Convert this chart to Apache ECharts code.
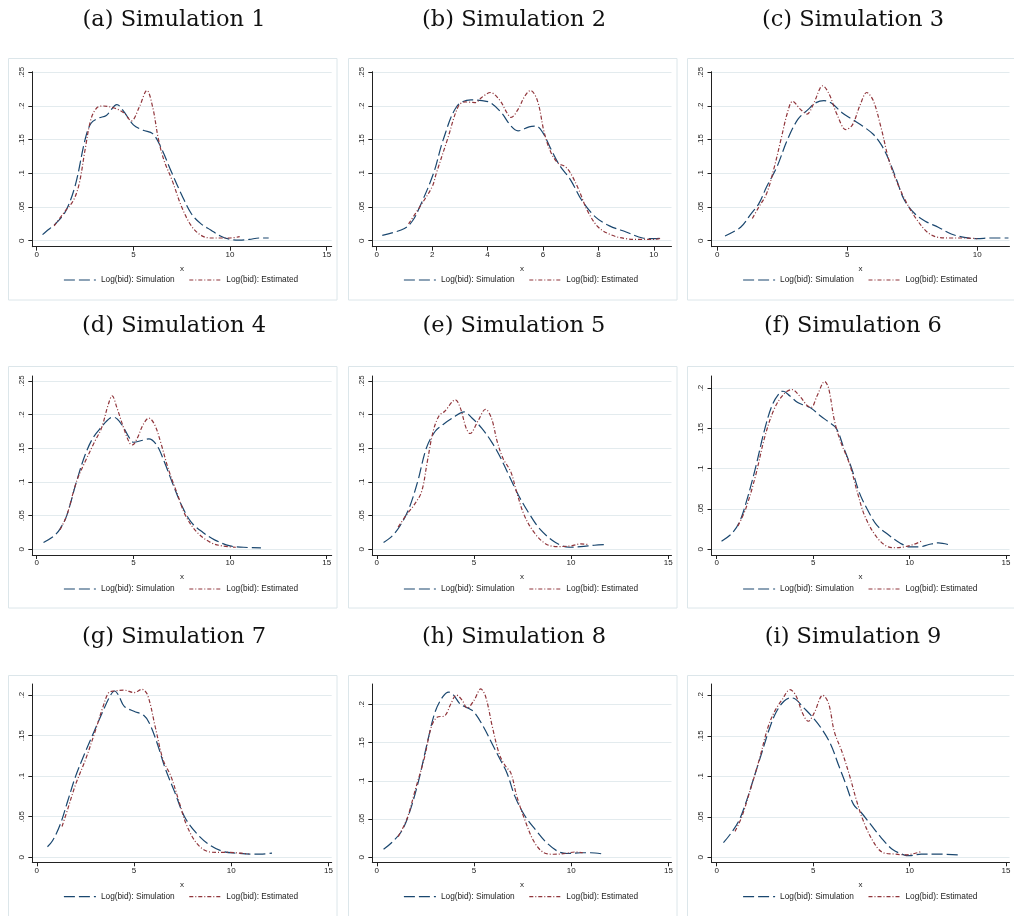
<!DOCTYPE html>
<html>
<head>
<meta charset="utf-8">
<script src="https://cdn.jsdelivr.net/npm/echarts@6/dist/echarts.min.js"></script>
<style>
html, body { margin: 0; padding: 0; background: #fff; }
#main { width: 1014px; height: 916px; }
</style>
</head>
<body>
<div id="main"></div>
<script>
// panel titles
const titles = ['(a) Simulation 1', '(b) Simulation 2', '(c) Simulation 3',
  '(d) Simulation 4', '(e) Simulation 5', '(f) Simulation 6',
  '(g) Simulation 7', '(h) Simulation 8', '(i) Simulation 9']
const simName = 'Log(bid): Simulation'
const estName = 'Log(bid): Estimated'

// density curves, [x, density]
const simA = [[0.3,0.009],[0.5,0.014],[1,0.026],[1.5,0.044],[2,0.083],[2.5,0.150],[2.8,0.174],[3.2,0.182],[3.6,0.186],[4.15,0.202],[4.5,0.192],[5,0.172],[5.5,0.164],[6,0.159],[6.4,0.140],[7,0.100],[7.5,0.068],[8,0.040],[8.5,0.025],[9,0.016],[9.5,0.007],[10,0.002],[10.5,0.001],[11,0.002],[11.5,0.004],[12,0.004]]
const estA = [[0.9,0.022],[1.5,0.045],[1.9,0.060],[2.2,0.085],[2.5,0.135],[2.8,0.180],[3.1,0.197],[3.4,0.200],[4,0.197],[4.5,0.190],[4.9,0.178],[5.3,0.198],[5.7,0.223],[6.0,0.198],[6.3,0.150],[6.6,0.118],[7,0.090],[7.5,0.050],[8,0.022],[8.5,0.008],[9,0.004],[9.5,0.004],[10,0.004],[10.5,0.006]]
const simB = [[0.2,0.008],[1.0,0.018],[1.3,0.030],[1.55,0.050],[2.05,0.100],[2.4,0.150],[2.9,0.200],[3.4,0.209],[3.8,0.208],[4.1,0.205],[4.5,0.190],[4.85,0.170],[5.1,0.163],[5.5,0.169],[5.75,0.170],[6.0,0.160],[6.3,0.135],[6.6,0.112],[7.0,0.090],[7.4,0.060],[7.9,0.035],[8.4,0.022],[9.0,0.013],[9.6,0.004],[10.0,0.003],[10.35,0.004]]
const estB = [[1.15,0.025],[1.55,0.050],[2.0,0.080],[2.15,0.100],[2.55,0.150],[2.95,0.200],[3.2,0.206],[3.55,0.205],[3.8,0.213],[4.1,0.220],[4.45,0.208],[4.7,0.190],[4.85,0.183],[5.1,0.195],[5.35,0.215],[5.55,0.223],[5.8,0.208],[6.05,0.160],[6.3,0.130],[6.55,0.115],[6.8,0.110],[7.0,0.100],[7.3,0.075],[7.6,0.045],[8.0,0.020],[8.5,0.008],[9.0,0.003],[9.5,0.002],[10.0,0.002],[10.3,0.004]]
const simC = [[0.3,0.007],[0.9,0.020],[1.3,0.040],[1.6,0.055],[1.9,0.080],[2.3,0.110],[2.7,0.150],[3.1,0.180],[3.5,0.195],[3.8,0.205],[4.1,0.208],[4.4,0.204],[4.8,0.190],[5.2,0.180],[5.6,0.170],[6.0,0.158],[6.3,0.143],[6.6,0.120],[6.9,0.090],[7.2,0.060],[7.6,0.040],[8.0,0.029],[8.5,0.020],[9.0,0.010],[9.5,0.005],[10.0,0.003],[10.5,0.004],[11.2,0.004]]
const estC = [[1.35,0.033],[1.6,0.050],[1.9,0.070],[2.2,0.110],[2.45,0.150],[2.7,0.190],[2.9,0.207],[3.2,0.195],[3.45,0.188],[3.7,0.203],[3.95,0.226],[4.05,0.230],[4.3,0.218],[4.6,0.188],[4.95,0.165],[5.2,0.172],[5.5,0.202],[5.75,0.220],[6.0,0.208],[6.3,0.168],[6.6,0.120],[6.9,0.088],[7.3,0.055],[7.7,0.030],[8.1,0.012],[8.5,0.005],[9.0,0.004],[9.5,0.004],[10.0,0.003]]
const simD = [[0.35,0.010],[0.9,0.020],[1.2,0.030],[1.55,0.050],[2.05,0.100],[2.5,0.140],[2.9,0.165],[3.3,0.180],[3.8,0.195],[4.0,0.196],[4.4,0.185],[4.8,0.165],[5.0,0.159],[5.5,0.162],[5.8,0.164],[6.2,0.155],[6.6,0.130],[7.0,0.100],[7.5,0.065],[8.0,0.040],[8.6,0.025],[9.2,0.014],[10.0,0.005],[10.7,0.003],[11.6,0.002]]
const estD = [[1.2,0.029],[1.55,0.050],[2.05,0.100],[2.5,0.130],[3.0,0.160],[3.35,0.180],[3.7,0.215],[3.9,0.228],[4.15,0.210],[4.5,0.180],[4.8,0.158],[4.95,0.155],[5.2,0.165],[5.5,0.185],[5.8,0.195],[6.1,0.185],[6.4,0.160],[6.8,0.120],[7.3,0.080],[7.7,0.050],[8.3,0.025],[9.0,0.010],[9.6,0.005],[10.3,0.003]]
const simE = [[0.35,0.010],[0.8,0.020],[1.2,0.035],[1.65,0.060],[2.1,0.100],[2.55,0.150],[3.0,0.175],[3.4,0.185],[3.9,0.195],[4.5,0.204],[4.9,0.195],[5.4,0.180],[5.9,0.160],[6.3,0.140],[6.8,0.110],[7.3,0.080],[7.8,0.055],[8.4,0.030],[9.2,0.010],[9.9,0.003],[10.5,0.004],[11.2,0.006],[11.7,0.007]]
const estE = [[1.1,0.033],[1.5,0.050],[1.9,0.065],[2.3,0.085],[2.6,0.130],[2.9,0.175],[3.2,0.198],[3.5,0.205],[4.05,0.222],[4.3,0.210],[4.6,0.180],[4.8,0.172],[5.2,0.190],[5.6,0.208],[5.9,0.195],[6.2,0.160],[6.5,0.135],[6.9,0.115],[7.2,0.085],[7.6,0.050],[8.1,0.025],[8.7,0.008],[9.3,0.004],[10.0,0.005],[10.5,0.008],[10.9,0.007]]
const simF = [[0.25,0.010],[0.8,0.020],[1.2,0.035],[1.55,0.060],[2.0,0.100],[2.5,0.150],[2.9,0.180],[3.3,0.195],[3.45,0.196],[3.8,0.190],[4.2,0.182],[4.6,0.178],[4.9,0.175],[5.4,0.165],[5.8,0.158],[6.2,0.150],[6.6,0.125],[7.0,0.100],[7.4,0.070],[7.8,0.050],[8.3,0.030],[8.9,0.018],[9.5,0.008],[10.0,0.003],[10.5,0.003],[11.0,0.006],[11.5,0.008],[12.0,0.006]]
const estF = [[1.1,0.029],[1.5,0.050],[2.0,0.090],[2.5,0.140],[3.0,0.175],[3.5,0.193],[3.9,0.198],[4.3,0.190],[4.7,0.178],[4.9,0.176],[5.2,0.190],[5.6,0.208],[5.8,0.200],[6.1,0.160],[6.4,0.135],[6.9,0.105],[7.3,0.070],[7.7,0.040],[8.3,0.015],[8.9,0.003],[9.3,0.002],[9.7,0.003],[10.2,0.006],[10.6,0.010]]
const simG = [[0.55,0.013],[0.8,0.020],[1.2,0.040],[1.6,0.070],[2.0,0.100],[2.5,0.130],[2.95,0.155],[3.4,0.180],[3.8,0.200],[4.0,0.205],[4.2,0.200],[4.5,0.186],[5.0,0.180],[5.5,0.175],[5.8,0.165],[6.2,0.140],[6.6,0.110],[7.1,0.080],[7.6,0.050],[8.2,0.030],[8.9,0.015],[9.6,0.007],[10.3,0.005],[11.0,0.004],[11.5,0.004],[12.1,0.005]]
const estG = [[1.3,0.038],[1.6,0.060],[2.0,0.090],[2.5,0.120],[3.0,0.155],[3.4,0.185],[3.7,0.203],[4.0,0.205],[4.5,0.206],[5.0,0.203],[5.4,0.207],[5.7,0.200],[6.1,0.160],[6.5,0.120],[6.9,0.100],[7.3,0.070],[7.7,0.040],[8.2,0.018],[8.7,0.008],[9.3,0.006],[9.9,0.006],[10.5,0.005],[10.9,0.004]]
const simH = [[0.35,0.0105],[0.8,0.020],[1.3,0.035],[1.7,0.060],[2.15,0.100],[2.6,0.150],[3.0,0.190],[3.4,0.210],[3.7,0.216],[3.95,0.212],[4.3,0.200],[4.7,0.195],[5.0,0.190],[5.5,0.170],[5.9,0.150],[6.3,0.130],[6.7,0.110],[7.1,0.080],[7.6,0.055],[8.2,0.035],[8.7,0.020],[9.3,0.008],[9.8,0.005],[10.5,0.006],[11.0,0.006],[11.7,0.004]]
const estH = [[1.1,0.027],[1.55,0.050],[2.0,0.090],[2.45,0.130],[2.8,0.170],[3.1,0.183],[3.5,0.185],[3.8,0.200],[4.1,0.212],[4.4,0.205],[4.65,0.195],[5.0,0.205],[5.35,0.220],[5.6,0.210],[5.95,0.170],[6.3,0.135],[6.6,0.120],[6.9,0.110],[7.2,0.080],[7.6,0.050],[8.1,0.020],[8.6,0.006],[9.1,0.004],[9.7,0.005],[10.2,0.007],[10.6,0.006]]
const simI = [[0.35,0.018],[0.75,0.030],[1.15,0.045],[1.55,0.070],[1.95,0.100],[2.35,0.130],[2.75,0.160],[3.1,0.180],[3.5,0.193],[3.85,0.197],[4.1,0.195],[4.5,0.185],[4.9,0.175],[5.4,0.160],[5.9,0.140],[6.3,0.115],[6.7,0.090],[7.1,0.065],[7.5,0.055],[8.0,0.040],[8.5,0.025],[9.1,0.010],[9.7,0.003],[10.0,0.002],[10.6,0.004],[11.3,0.004],[12.5,0.003]]
const estI = [[0.95,0.032],[1.3,0.050],[1.7,0.080],[2.2,0.120],[2.65,0.160],[3.0,0.180],[3.4,0.195],[3.8,0.207],[4.1,0.200],[4.45,0.178],[4.75,0.168],[5.05,0.178],[5.5,0.200],[5.8,0.190],[6.1,0.155],[6.5,0.130],[6.9,0.100],[7.25,0.070],[7.6,0.045],[8.1,0.020],[8.6,0.006],[9.2,0.004],[9.8,0.003],[10.3,0.005],[10.6,0.007]]

const simSeries = [simA, simB, simC, simD, simE, simF, simG, simH, simI]
const estSeries = [estA, estB, estC, estD, estE, estF, estG, estH, estI]

// tick values
const xTicks15 = [0, 5, 10, 15]
const xTicksB = [0, 2, 4, 6, 8, 10]
const xTicksC = [0, 5, 10]
const yTicks25 = [0, 0.05, 0.1, 0.15, 0.2, 0.25]
const yTicks20 = [0, 0.05, 0.1, 0.15, 0.2]
const xTicks = [xTicks15, xTicksB, xTicksC, xTicks15, xTicks15, xTicks15, xTicks15, xTicks15, xTicks15]
const yTicks = [yTicks25, yTicks25, yTicks25, yTicks25, yTicks25, yTicks20, yTicks20, yTicks20, yTicks20]

// axis extents (stata pads the plot region a little past the ticks)
const xRange = [[-0.23,15.26],[-0.16,10.64],[-0.22,11.24],[-0.23,15.26],[-0.23,15.17],[-0.27,15.18],[-0.23,15.17],[-0.23,15.16],[-0.27,15.18]]
const yRange = [[-0.0089,0.2509],[-0.0089,0.2509],[-0.0089,0.2509],[-0.0085,0.2574],[-0.0085,0.2574],[-0.007,0.2149],[-0.0062,0.2136],[-0.0065,0.2265],[-0.0062,0.214]]

// layout (px)
const colLeft = [32.3, 372.3, 711.5]
const colRight = [331.7, 671.5, 1009.5]
const rowTop = [71.7, 376, 684]
const rowBottom = [246.7, 555, 862.3]
const boxLeft = [8.5, 348.5, 687.5]
const boxTop = [58.5, 366.5, 675.5]
const titleX = [174, 514, 853]
const titleY = [20, 326.5, 637]
const legendY = [281, 590, 897.7]

const SANS = "'Liberation Sans', Arial, sans-serif"
const AXIS_COLOR = '#222'
const SIM_COLOR = '#1a476f'
const EST_COLOR = '#90353b'

function yLabel(v){ // 0.05 -> .05
  if (v === 0) return '0'
  return String(+v.toFixed(2)).replace(/^0/, '')
}

let grid = [], xAxis = [], yAxis = [], series = [], legend = [], title = [], graphic = []
for (let i = 0; i < 9; i++) {
  const r = Math.floor(i / 3), c = i % 3
  grid.push({
    left: colLeft[c], top: rowTop[r],
    width: colRight[c] - colLeft[c], height: rowBottom[r] - rowTop[r]
  })
  xAxis.push({
    gridIndex: i, type: 'value', min: xRange[i][0], max: xRange[i][1],
    name: 'x', nameLocation: 'middle', nameGap: 18,
    nameTextStyle: {fontSize: 8, color: AXIS_COLOR, fontFamily: SANS},
    axisLine: {onZero: false, lineStyle: {color: AXIS_COLOR, width: 1}},
    axisTick: {customValues: xTicks[i], length: 4, lineStyle: {color: AXIS_COLOR, width: 1}},
    axisLabel: {customValues: xTicks[i], fontSize: 8, margin: 4, color: AXIS_COLOR, fontFamily: SANS},
    splitLine: {show: false}
  })
  yAxis.push({
    gridIndex: i, type: 'value', min: yRange[i][0], max: yRange[i][1],
    axisLine: {onZero: false, lineStyle: {color: AXIS_COLOR, width: 1}},
    axisTick: {customValues: yTicks[i], length: 4, lineStyle: {color: AXIS_COLOR, width: 1}},
    axisLabel: {customValues: yTicks[i], rotate: 90, fontSize: 8, margin: 7, color: AXIS_COLOR,
      fontFamily: SANS, formatter: yLabel},
    splitLine: {show: true, lineStyle: {color: '#e3ebee', width: 1}}
  })
  series.push({
    type: 'line', name: simName, xAxisIndex: i, yAxisIndex: i, data: simSeries[i],
    smooth: 0.35, symbol: 'none', silent: true,
    lineStyle: {color: SIM_COLOR, width: 1.2, type: [11, 4]},
    itemStyle: {color: SIM_COLOR}
  })
  series.push({
    type: 'line', name: estName, xAxisIndex: i, yAxisIndex: i, data: estSeries[i],
    smooth: 0.35, symbol: 'none', silent: true,
    lineStyle: {color: EST_COLOR, width: 1.2, type: [4, 2, 1, 2]},
    itemStyle: {color: EST_COLOR}
  })
  legend.push({
    data: [simName, estName], left: colLeft[c] + 31, top: legendY[r] - 5,
    orient: 'horizontal', itemWidth: 32, itemHeight: 10, itemGap: 14, padding: 0,
    selectedMode: false,
    itemStyle: {opacity: 0},
    lineStyle: {width: 1.2},
    textStyle: {fontSize: 8.3, color: AXIS_COLOR, fontFamily: SANS, padding: [0, 0, 0, 0]}
  })
  title.push({
    text: titles[i], left: titleX[c], top: titleY[r], padding: 0,
    textAlign: 'center', textVerticalAlign: 'middle',
    textStyle: {fontFamily: "'DejaVu Serif', serif", fontWeight: 'normal', fontSize: 22.5, color: '#111'}
  })
  graphic.push({
    type: 'rect', silent: true, z: -10,
    shape: {x: boxLeft[c], y: boxTop[r], width: 328.5, height: 241.5},
    style: {fill: 'none', stroke: '#dce6ea', lineWidth: 1}
  })
}

const chart = echarts.init(document.getElementById('main'), null, {renderer: 'canvas'})
chart.setOption({
  animation: false,
  backgroundColor: '#fff',
  title, legend, grid, xAxis, yAxis, series, graphic
})
</script>
</body>
</html>
